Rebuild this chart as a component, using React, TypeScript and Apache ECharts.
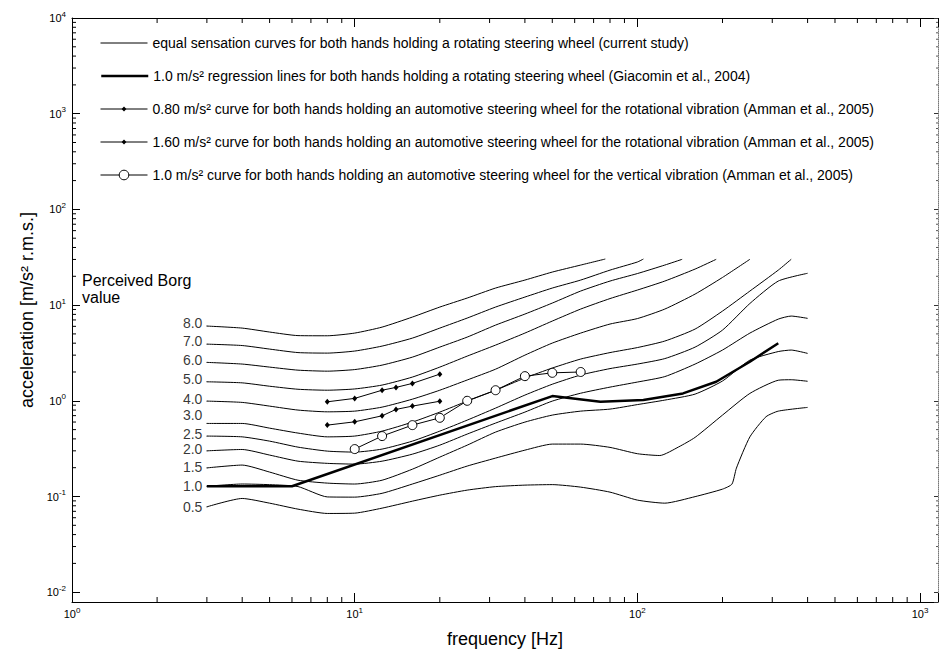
import React, { useEffect, useRef } from 'react';
import * as echarts from 'echarts';

const FONT = '"Liberation Sans", Arial, Helvetica, sans-serif';

// axis extents (log axes)
const X_MIN = 1;
const X_MAX = 1157;
const Y_MIN = 0.0079;
const Y_MAX = 10000;

const FREQ_MINOR_TICKS = [2, 3, 4, 5, 6, 7, 8, 9, 20, 30, 40, 50, 60, 70, 80, 90, 200, 300, 400, 500, 600, 700, 800, 900];
const ACC_MINOR_TICKS = [
  0.02, 0.03, 0.04, 0.05, 0.06, 0.07, 0.08, 0.09,
  0.2, 0.3, 0.4, 0.5, 0.6, 0.7, 0.8, 0.9,
  2, 3, 4, 5, 6, 7, 8, 9,
  20, 30, 40, 50, 60, 70, 80, 90,
  200, 300, 400, 500, 600, 700, 800, 900,
  2000, 3000, 4000, 5000, 6000, 7000, 8000, 9000,
];

const BORG_LABELS = ['0.5', '1.0', '1.5', '2.0', '2.5', '3.0', '4.0', '5.0', '6.0', '7.0', '8.0'];
// vertical nudge (px) of each Borg label relative to its curve start
const BORG_LABEL_NUDGE = [0, -0.5, -1, -1.5, -2.5, -8, -2.5, -3, -2.5, -3, -3.5];

// equal sensation curves [frequency Hz, acceleration m/s^2]
const CURVE_0_5 = [[3, 0.078], [4, 0.0954], [5, 0.0852], [6.3, 0.0738], [8, 0.0665], [10, 0.067], [12.5, 0.0756], [16, 0.0894], [20, 0.1033], [25, 0.1166], [31.5, 0.1268], [40, 0.1315], [50, 0.1331], [63, 0.1253], [80, 0.1111], [100, 0.0917], [125, 0.0852], [160, 0.0997], [200, 0.1194], [216, 0.1347], [224, 0.198], [250, 0.42], [285, 0.681], [315, 0.78], [400, 0.853]];
const CURVE_1_0 = [[3, 0.128], [4, 0.135], [5, 0.133], [6.3, 0.127], [8, 0.099], [10, 0.0985], [12.5, 0.108], [16, 0.135], [20, 0.167], [25, 0.208], [31.5, 0.252], [40, 0.305], [50, 0.353], [63, 0.353], [80, 0.326], [100, 0.28], [120, 0.268], [140, 0.33], [160, 0.415], [200, 0.709], [250, 1.195], [315, 1.64], [350, 1.66], [400, 1.6]];
const CURVE_1_5 = [[3, 0.199], [4, 0.213], [5, 0.18], [6.3, 0.148], [8, 0.138], [10, 0.135], [12.5, 0.148], [16, 0.193], [20, 0.258], [25, 0.344], [31.5, 0.471], [40, 0.599], [50, 0.709], [63, 0.78], [80, 0.819], [100, 0.913], [125, 1.017], [160, 1.175], [200, 1.61], [250, 2.66], [315, 3.27], [350, 3.39], [400, 3.13]];
const CURVE_2_0 = [[3, 0.3], [4, 0.31], [5, 0.271], [6.3, 0.234], [8, 0.222], [10, 0.218], [12.5, 0.234], [16, 0.277], [20, 0.344], [25, 0.449], [31.5, 0.585], [40, 0.762], [50, 0.993], [63, 1.2], [80, 1.39], [100, 1.57], [125, 1.79], [160, 2.42], [200, 3.39], [250, 5.1], [315, 7.14], [350, 7.68], [400, 7.27]];
const CURVE_2_5 = [[3, 0.428], [4, 0.42], [5, 0.379], [6.3, 0.328], [8, 0.298], [10, 0.291], [12.5, 0.313], [16, 0.379], [20, 0.482], [25, 0.628], [31.5, 0.839], [40, 1.147], [50, 1.49], [63, 1.86], [80, 2.17], [100, 2.42], [125, 2.76], [160, 3.64], [200, 5.48], [250, 10.4], [315, 17.83], [400, 21.5]];
const CURVE_3_0 = [[3, 0.58], [4, 0.58], [5, 0.518], [6.3, 0.46], [8, 0.42], [10, 0.428], [12.5, 0.482], [16, 0.599], [20, 0.762], [25, 0.993], [31.5, 1.29], [40, 1.73], [50, 2.2], [63, 2.73], [80, 3.19], [100, 3.6], [125, 4.21], [160, 5.62], [200, 8.66], [250, 14.02], [315, 23.2], [350, 30.1]];
const CURVE_4_0 = [[3, 0.993], [4, 0.962], [5, 0.88], [6.3, 0.8], [8, 0.767], [10, 0.78], [12.5, 0.859], [16, 1.04], [20, 1.29], [25, 1.65], [31.5, 2.14], [40, 3.0], [50, 4.01], [63, 5.1], [80, 6.34], [100, 7.23], [125, 9.09], [160, 13.04], [200, 19.45], [250, 30.1]];
const CURVE_5_0 = [[3, 1.58], [4, 1.54], [5, 1.42], [6.3, 1.32], [8, 1.29], [10, 1.33], [12.5, 1.46], [16, 1.77], [20, 2.25], [25, 2.93], [31.5, 3.82], [40, 5.1], [50, 6.81], [63, 9.09], [80, 11.7], [100, 14.36], [125, 17.83], [160, 23.8], [190, 30.1]];
const CURVE_6_0 = [[3, 2.52], [4, 2.42], [5, 2.25], [6.3, 2.09], [8, 2.04], [10, 2.12], [12.5, 2.36], [16, 2.86], [20, 3.64], [25, 4.63], [31.5, 6.18], [40, 8.06], [50, 10.5], [63, 14.02], [80, 17.83], [100, 21.36], [125, 26.2], [144, 30.1]];
const CURVE_7_0 = [[3, 3.91], [4, 3.78], [5, 3.47], [6.3, 3.19], [8, 3.15], [10, 3.31], [12.5, 3.73], [16, 4.52], [20, 5.75], [25, 7.32], [31.5, 9.54], [40, 12.13], [50, 15.07], [63, 18.26], [80, 23.2], [100, 28.2], [105, 30.3]];
const CURVE_8_0 = [[3, 6.04], [4, 5.75], [5, 5.23], [6.3, 4.8], [8, 4.78], [10, 5.1], [12.5, 5.89], [16, 7.5], [20, 9.54], [25, 11.85], [31.5, 15.07], [40, 18.26], [50, 22.14], [63, 26.2], [77, 30.3]];

const REGRESSION_GIACOMIN = [[3, 0.128], [6, 0.128], [50, 1.12], [74, 0.976], [105, 1.017], [145, 1.195], [190, 1.58], [250, 2.56], [315, 3.99]];
const AMMAN_ROT_080 = [[8, 0.557], [10, 0.603], [12.5, 0.697], [14, 0.813], [16, 0.88], [20, 0.99]];
const AMMAN_ROT_160 = [[8, 0.976], [10, 1.06], [12.5, 1.29], [14, 1.38], [16, 1.52], [20, 1.9]];
const AMMAN_VERT_100 = [[10, 0.313], [12.5, 0.428], [16, 0.557], [20, 0.664], [25, 1.0], [31.5, 1.29], [40, 1.81], [50, 1.96], [63, 2.0]];

const CURVES = [CURVE_0_5, CURVE_1_0, CURVE_1_5, CURVE_2_0, CURVE_2_5, CURVE_3_0, CURVE_4_0, CURVE_5_0, CURVE_6_0, CURVE_7_0, CURVE_8_0];

const LEG_CURRENT = 'equal sensation curves for both hands holding a rotating steering wheel (current study)';
const LEG_GIACOMIN = '1.0 m/s² regression lines for both hands holding a rotating steering wheel (Giacomin et al., 2004)';
const LEG_AMMAN_080 = '0.80 m/s² curve for both hands holding an automotive steering wheel for the rotational vibration (Amman et al., 2005)';
const LEG_AMMAN_160 = '1.60 m/s² curve for both hands holding an automotive steering wheel for the rotational vibration (Amman et al., 2005)';
const LEG_AMMAN_VERT = '1.0 m/s² curve for both hands holding an automotive steering wheel for the vertical vibration (Amman et al., 2005)';

const powLabel = (v: number) => {
  const e = Math.log10(v);
  const r = Math.round(e);
  if (Math.abs(e - r) > 1e-6) return '';
  return `{b|10}{e|${r}}`;
};

const tickRich = {
  b: { fontSize: 11, lineHeight: 16, fontFamily: FONT, color: '#000' },
  e: { fontSize: 8, lineHeight: 9, verticalAlign: 'top', fontFamily: FONT, color: '#000' },
};

const blackLine = { color: '#000', width: 1 };

function buildOption() {
  const legendBase = {
    left: 100,
    orient: 'vertical',
    itemWidth: 47,
    itemGap: 0,
    padding: 0,
    selectedMode: false,
    textStyle: { fontSize: 14, color: '#000', fontFamily: FONT },
  };

  const series: any[] = CURVES.map((c) => ({
    type: 'line',
    name: LEG_CURRENT,
    data: c,
    symbol: 'none',
    smooth: 0.2,
    lineStyle: { color: '#000', width: 1 },
    itemStyle: { color: '#000' },
    z: 2,
    silent: true,
  }));

  series.push(
    {
      type: 'line',
      name: LEG_GIACOMIN,
      data: REGRESSION_GIACOMIN,
      symbol: 'none',
      lineStyle: { color: '#000', width: 2.5 },
      itemStyle: { color: '#000' },
      z: 3,
      silent: true,
    },
    {
      type: 'line',
      name: LEG_AMMAN_080,
      data: AMMAN_ROT_080,
      symbol: 'diamond',
      symbolSize: [5, 6],
      lineStyle: { color: '#000', width: 1 },
      itemStyle: { color: '#000' },
      z: 4,
      silent: true,
    },
    {
      type: 'line',
      name: LEG_AMMAN_160,
      data: AMMAN_ROT_160,
      symbol: 'diamond',
      symbolSize: [5, 6],
      lineStyle: { color: '#000', width: 1 },
      itemStyle: { color: '#000' },
      z: 4,
      silent: true,
    },
    {
      type: 'line',
      name: LEG_AMMAN_VERT,
      data: AMMAN_VERT_100,
      symbol: 'circle',
      symbolSize: 9,
      lineStyle: { color: '#000', width: 1 },
      itemStyle: { color: '#fff', borderColor: '#000', borderWidth: 1 },
      z: 5,
      silent: true,
    },
    {
      type: 'scatter',
      name: 'borg-labels',
      data: CURVES.map((c, i) => ({
        value: c[0],
        label: { formatter: BORG_LABELS[i], offset: [0, BORG_LABEL_NUDGE[i]] },
      })),
      symbol: 'circle',
      symbolSize: 1,
      itemStyle: { color: '#000' },
      label: { show: true, position: 'left', distance: 4, fontSize: 14, lineHeight: 13, color: '#000', fontFamily: FONT },
      z: 6,
      silent: true,
    },
    {
      type: 'custom',
      name: 'x-minor',
      data: FREQ_MINOR_TICKS.map((f) => [f, 1]),
      silent: true,
      renderItem: (_p: any, api: any) => {
        const v = api.value(0);
        const b = api.coord([v, Y_MIN]);
        const t = api.coord([v, Y_MAX]);
        return {
          type: 'group',
          children: [
            { type: 'line', shape: { x1: b[0], y1: b[1], x2: b[0], y2: b[1] - 5 }, style: { stroke: '#000', lineWidth: 1 } },
            { type: 'line', shape: { x1: t[0], y1: t[1], x2: t[0], y2: t[1] + 5 }, style: { stroke: '#000', lineWidth: 1 } },
          ],
        };
      },
    },
    {
      type: 'custom',
      name: 'y-minor',
      data: ACC_MINOR_TICKS.map((a) => [2, a]),
      silent: true,
      renderItem: (_p: any, api: any) => {
        const v = api.value(1);
        const l = api.coord([X_MIN, v]);
        const r = api.coord([X_MAX, v]);
        return {
          type: 'group',
          children: [
            { type: 'line', shape: { x1: l[0], y1: l[1], x2: l[0] + 4, y2: l[1] }, style: { stroke: '#000', lineWidth: 1 } },
            { type: 'line', shape: { x1: r[0], y1: r[1], x2: r[0] - 2, y2: r[1] }, style: { stroke: '#555', lineWidth: 1 } },
          ],
        };
      },
    }
  );

  return {
    animation: false,
    backgroundColor: '#fff',
    textStyle: { fontFamily: FONT },
    title: {
      text: 'Perceived Borg\nvalue',
      left: 82,
      top: 272,
      padding: 0,
      textStyle: { fontSize: 16, fontWeight: 'normal', color: '#000', fontFamily: FONT, lineHeight: 17 },
    },
    legend: [
      { ...legendBase, top: 36, itemHeight: 14, data: [LEG_CURRENT], itemStyle: { opacity: 0 }, lineStyle: { width: 1, color: '#000' } },
      { ...legendBase, top: 69, itemHeight: 14, data: [LEG_GIACOMIN], itemStyle: { opacity: 0 }, lineStyle: { width: 2.5, color: '#000' } },
      { ...legendBase, top: 102, itemHeight: 6, data: [LEG_AMMAN_080], itemStyle: { color: '#000', borderWidth: 0 }, lineStyle: { width: 1, color: '#000' } },
      { ...legendBase, top: 135, itemHeight: 6, data: [LEG_AMMAN_160], itemStyle: { color: '#000', borderWidth: 0 }, lineStyle: { width: 1, color: '#000' } },
      { ...legendBase, top: 168, itemHeight: 12, data: [LEG_AMMAN_VERT], itemStyle: { color: '#fff', borderColor: '#000', borderWidth: 1 }, lineStyle: { width: 1, color: '#000' } },
    ],
    grid: { left: 72, top: 18, right: 1, bottom: 57, containLabel: false, outerBoundsMode: 'none' },
    xAxis: [
      {
        type: 'log',
        logBase: 10,
        min: X_MIN,
        max: X_MAX,
        position: 'bottom',
        axisLine: { show: true, lineStyle: blackLine },
        axisTick: { show: true, inside: true, length: 9, lineStyle: blackLine },
        axisLabel: { formatter: powLabel, rich: tickRich, margin: 4, color: '#000' },
        splitLine: { show: false },
        minorTick: { show: false },
        name: 'frequency [Hz]',
        nameLocation: 'middle',
        nameGap: 28,
        nameTextStyle: { fontSize: 18, color: '#000', fontFamily: FONT },
      },
      {
        type: 'log',
        logBase: 10,
        min: X_MIN,
        max: X_MAX,
        position: 'top',
        axisLine: { show: true, lineStyle: blackLine },
        axisTick: { show: true, inside: true, length: 9, lineStyle: blackLine },
        axisLabel: { show: false },
        splitLine: { show: false },
      },
    ],
    yAxis: [
      {
        type: 'log',
        logBase: 10,
        min: Y_MIN,
        max: Y_MAX,
        position: 'left',
        axisLine: { show: true, lineStyle: blackLine },
        axisTick: { show: true, inside: true, length: 8, lineStyle: blackLine },
        axisLabel: { formatter: powLabel, rich: tickRich, margin: 6, color: '#000' },
        splitLine: { show: false },
        name: 'acceleration [m/s² r.m.s.]',
        nameLocation: 'middle',
        nameGap: 33,
        nameRotate: 90,
        nameTextStyle: { fontSize: 18, color: '#000', fontFamily: FONT },
      },
      {
        type: 'log',
        logBase: 10,
        min: Y_MIN,
        max: Y_MAX,
        position: 'right',
        axisLine: { show: true, lineStyle: { color: '#777', width: 1, type: 'dotted' } },
        axisTick: { show: true, inside: true, length: 4, lineStyle: { color: '#333', width: 1 } },
        axisLabel: { show: false },
        splitLine: { show: false },
      },
    ],
    series,
  };
}

export default function App() {
  const ref = useRef<HTMLDivElement>(null);
  useEffect(() => {
    if (!ref.current) return;
    const chart = echarts.init(ref.current, null, { renderer: 'svg' });
    chart.setOption(buildOption() as any);
    return () => chart.dispose();
  }, []);
  return (
    <div
      ref={ref}
      style={{ position: 'fixed', left: 0, top: 0, width: 939, height: 659, background: '#fff' }}
    />
  );
}
